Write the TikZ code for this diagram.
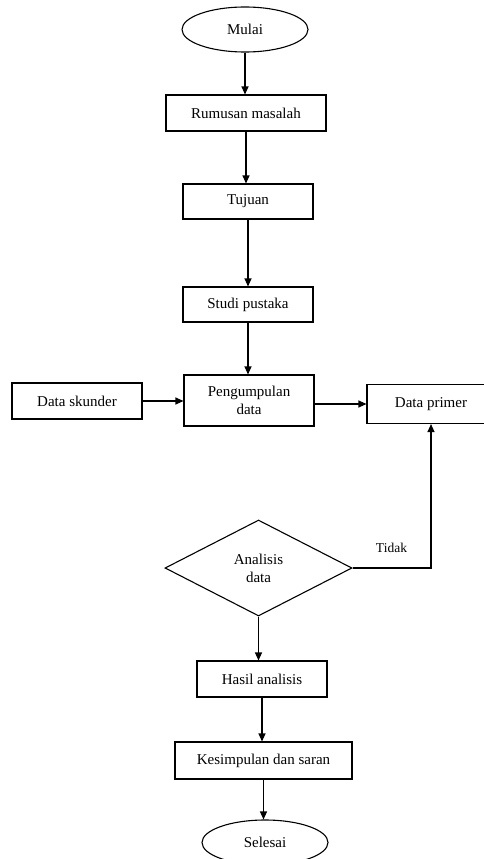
\documentclass[tikz,border=0pt]{standalone}
\usepackage{fontspec}
\setmainfont{Liberation Serif}
\usetikzlibrary{shapes.geometric,arrows.meta}
\begin{document}
\begin{tikzpicture}[x=1pt,y=-1pt,
  every node/.style={font=\fontsize{15}{18}\selectfont, line width=1.1pt, inner sep=0pt, align=center},
  procbox/.style={draw, rectangle},
  termbox/.style={draw, ellipse, minimum width=126pt, minimum height=45pt},
  decbox/.style={draw, diamond, minimum width=187pt, minimum height=96pt},
  arr/.style={line width=1.1pt, -{Triangle[length=8pt,width=7pt]}},
  conn/.style={line width=1.1pt}
]
\clip (0,0) rectangle (484,859);
\fill[white] (0,0) rectangle (484,859);
\node[termbox] (mulai) at (245,29.5) {Mulai};
\node[procbox, minimum width=160pt, minimum height=36pt] (rumusan) at (246,113) {Rumusan masalah};
\node[procbox, minimum width=130pt, minimum height=35pt] (tujuan) at (248,201.5) {Tujuan};
\node[procbox, minimum width=130pt, minimum height=35pt] (studi) at (248,304.5) {Studi pustaka};
\node[procbox, minimum width=130pt, minimum height=51pt] (kumpul) at (249,400.5) {Pengumpulan\\data};
\node[procbox, minimum width=130pt, minimum height=36pt] (skunder) at (77,401) {Data skunder};
\node[procbox, minimum width=128pt, minimum height=39pt] (primer) at (431,404) {Data primer};
\node[decbox] (analisis) at (258.5,568) {Analisis\\data};
\node[procbox, minimum width=130pt, minimum height=36pt] (hasil) at (262,679) {Hasil analisis};
\node[procbox, minimum width=177pt, minimum height=37pt] (kesimpulan) at (263.5,760.5) {Kesimpulan dan saran};
\node[termbox] (selesai) at (265,842.5) {Selesai};
\node[font=\fontsize{13.5}{16}\selectfont] (tidak) at (391.5,548) {Tidak};

\draw[arr] (mulai.south) -- (mulai.south |- rumusan.north);
\draw[arr] (rumusan.south) -- (rumusan.south |- tujuan.north);
\draw[arr] (tujuan.south) -- (tujuan.south |- studi.north);
\draw[arr] (studi.south) -- (studi.south |- kumpul.north);
\draw[arr] (skunder.east) -- (skunder.east -| kumpul.west);
\draw[arr] (kumpul.east |- primer.west) -- (primer.west);
\draw[arr] (analisis.east) -| (primer.south);
\draw[arr] (analisis.south) -- (analisis.south |- hasil.north);
\draw[arr] (hasil.south) -- (hasil.south |- kesimpulan.north);
\draw[arr] (kesimpulan.south) -- (kesimpulan.south |- selesai.north);
\end{tikzpicture}
\end{document}
